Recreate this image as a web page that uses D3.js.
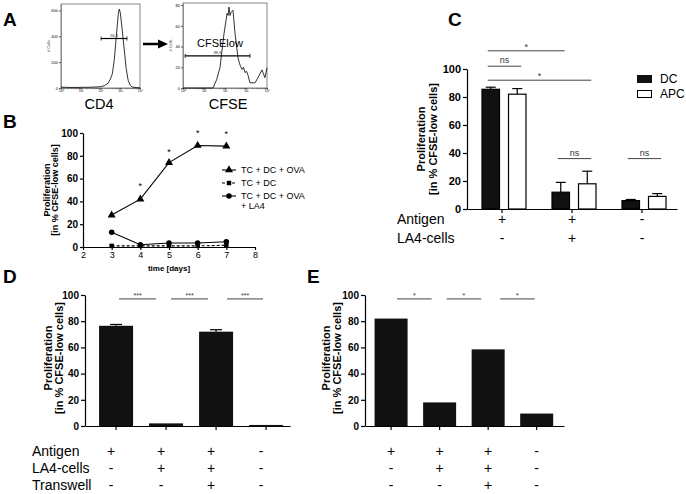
<!DOCTYPE html>
<meta charset="utf-8">
<style>
  body{margin:0;background:#fff;}
  svg{display:block;font-family:"Liberation Sans",Arial,sans-serif;}
</style>
<body>
<svg id="fig" width="686" height="494"></svg>
<script src="https://d3js.org/d3.v7.min.js"></script>
<script>
// ---------- data ----------
// A: flow histograms (x = log10 intensity, y = # cells)
const cd4Log    = [0, 0.5, 1, 1.5, 2, 2.2, 2.4, 2.5, 2.6, 2.7, 2.8, 2.9, 2.95, 3.0, 3.1, 3.2, 3.3, 3.4, 3.5, 3.6, 3.8, 4];
const cd4Count  = [6, 4, 5, 6, 10, 18, 40, 70, 110, 220, 400, 570, 610, 585, 450, 300, 150, 60, 22, 8, 3, 2];
const cfseLog   = [0, 0.5, 1, 1.43, 1.6, 1.76, 1.95, 2.1, 2.15, 2.19, 2.24, 2.29, 2.38, 2.48, 2.62, 2.72, 2.81, 2.88, 2.95, 3.03, 3.1, 3.19, 3.43, 3.57, 3.76, 3.9, 4];
const cfseCount = [0, 0, 0, 0, 8, 19.5, 52, 72, 70, 78, 70, 73, 75, 52, 29, 22, 18, 20, 15, 16, 12, 5, 5, 10, 17.5, 10, 19.5];

// B: time course
const days     = [3, 4, 5, 6, 7];
const ovaVals  = [28, 42, 74, 89, 88.5];
const dcVals   = [1, 1, 1, 1, 1.5];
const la4Vals  = [13, 2, 3.5, 3.5, 4.6];
const bStarDays = [4, 5, 6, 7];
const bStarVals = [55, 85, 102, 101];
const bLegend  = ["TC + DC + OVA", "TC + DC", "TC + DC + OVA", "+ LA4"];

// C: DC vs APC
const cAntigen = ["+", "+", "-"];
const cLA4     = ["-", "+", "-"];
const dcMean   = [85.5, 12, 6];
const dcErr    = [1.5, 7, 0.8];
const apcMean  = [82, 18, 9];
const apcErr   = [4, 9, 2];

// D / E: transwell
const dMean    = [76.5, 2, 72, 0.8];
const dErr     = [1, 0, 1.5, 0];
const eMean    = [82, 18, 58.5, 9.5];
const rowAntigen   = ["+", "+", "+", "-"];
const rowLA4       = ["-", "+", "+", "-"];
const rowTranswell = ["-", "-", "+", "-"];

const yTicks = [0, 20, 40, 60, 80, 100];

const svg = d3.select("#fig");

function styleAxis(g, size, bold, w) {
  g.attr("font-family", null).attr("font-size", size);
  g.selectAll("path,line").attr("stroke", "#000").attr("stroke-width", w || 1.2);
  g.selectAll("text").attr("fill", "#000").attr("font-weight", bold ? "bold" : "normal");
}

function letter(t, x, y) {
  svg.append("text").attr("x", x).attr("y", y).attr("font-size", 19)
    .attr("font-weight", "bold").text(t);
}

function yTitle(cx, cy, size, gap) {
  const t = svg.append("text").attr("transform", `translate(${cx},${cy}) rotate(-90)`)
    .attr("text-anchor", "middle").attr("font-size", size).attr("font-weight", "bold");
  t.append("tspan").attr("x", 0).attr("y", 0).text("Proliferation");
  t.append("tspan").attr("x", 0).attr("y", gap).text("[in % CFSE-low cells]");
}

// ---------- A ----------
const sup = ["\u2070", "\u00b9", "\u00b2", "\u00b3", "\u2074"];
function histPanel(x0, x1, y0, y1, yMax, ticks, logs, counts, gateVal, gateFrom, gateTo, gateLabel) {
  const x = d3.scaleLinear().domain([0, 4]).range([x0, x1]);
  const y = d3.scaleLinear().domain([0, yMax]).range([y1, y0]);
  svg.append("rect").attr("x", x0).attr("y", y0).attr("width", x1 - x0).attr("height", y1 - y0)
    .attr("fill", "none").attr("stroke", "#666").attr("stroke-width", 0.8);
  const minor = [];
  for (let d = 0; d < 4; d++) for (let k = 2; k < 10; k++) minor.push(d + Math.log10(k));
  const gx = svg.append("g").attr("transform", `translate(0,${y1})`)
    .call(d3.axisBottom(x).tickValues([0, 1, 2, 3, 4]).tickSize(1.5).tickSizeOuter(0).tickPadding(0.5)
      .tickFormat(d => "10" + sup[d]));
  styleAxis(gx, 3.5, false, 0.6);
  gx.select(".domain").attr("stroke", "#666");
  const gm = svg.append("g").attr("transform", `translate(0,${y1})`)
    .call(d3.axisBottom(x).tickValues(minor).tickSize(1.2).tickFormat(""));
  gm.select(".domain").remove();
  gm.selectAll("line").attr("stroke", "#444").attr("stroke-width", 0.5);
  const gy = svg.append("g").attr("transform", `translate(${x0},0)`)
    .call(d3.axisLeft(y).tickValues(ticks).tickSize(2).tickSizeOuter(0).tickPadding(1));
  styleAxis(gy, 4, false, 0.6);
  gy.select(".domain").attr("stroke", "#666");
  svg.append("text").attr("transform", `translate(${x0 - 11},${(y0 + y1) / 2}) rotate(-90)`)
    .attr("text-anchor", "middle").attr("font-size", 4).attr("fill", "#333").text("# Cells");
  svg.append("path").datum(d3.zip(logs, counts))
    .attr("d", d3.line().x(d => x(d[0])).y(d => y(d[1])))
    .attr("fill", "none").attr("stroke", "#000").attr("stroke-width", 0.8);
  // gate
  const gy0 = y(gateVal);
  svg.append("line").attr("x1", x(gateFrom)).attr("x2", x(gateTo)).attr("y1", gy0).attr("y2", gy0)
    .attr("stroke", "#000").attr("stroke-width", 1.2);
  [gateFrom, gateTo].forEach(v => svg.append("line").attr("x1", x(v)).attr("x2", x(v))
    .attr("y1", gy0 - 2).attr("y2", gy0 + 2).attr("stroke", "#000").attr("stroke-width", 0.8));
  svg.append("text").attr("x", (x(gateFrom) + x(gateTo)) / 2).attr("y", gy0 - 2)
    .attr("text-anchor", "middle").attr("font-size", 4).attr("fill", "#333").text(gateLabel);
  return x;
}

letter("A", 3, 26);
histPanel(61, 140, 4, 88, 650, [0, 200, 400, 600], cd4Log, cd4Count, 383, 2.03, 3.34, "94.4");
histPanel(183, 267, 3, 88, 82, [0, 20, 40, 60, 80], cfseLog, cfseCount, 31, 0.1, 3.19, "88.8");
svg.append("text").attr("x", 197).attr("y", 47).attr("font-size", 11).text("CFSElow");
svg.append("text").attr("x", 99).attr("y", 109).attr("text-anchor", "middle").attr("font-size", 14.5).text("CD4");
svg.append("text").attr("x", 228).attr("y", 109).attr("text-anchor", "middle").attr("font-size", 14.5).text("CFSE");
svg.append("line").attr("x1", 143).attr("x2", 160).attr("y1", 44).attr("y2", 44)
  .attr("stroke", "#000").attr("stroke-width", 2.5);
svg.append("path").attr("d", "M158,39.5L168,44L158,48.5Z").attr("fill", "#000");

// ---------- B ----------
letter("B", 3, 128);
const bx = d3.scaleLinear().domain([2, 8]).range([83, 255]);
const by = d3.scaleLinear().domain([0, 100]).range([247, 133]);
const bgy = svg.append("g").attr("transform", "translate(83,0)")
  .call(d3.axisLeft(by).tickValues(yTicks).tickSize(3).tickSizeOuter(0).tickPadding(2));
styleAxis(bgy, 10, true);
const bgx = svg.append("g").attr("transform", "translate(0,247)")
  .call(d3.axisBottom(bx).ticks(6).tickSize(3).tickSizeOuter(0).tickPadding(2));
styleAxis(bgx, 9, false);
svg.append("text").attr("x", 169).attr("y", 271).attr("text-anchor", "middle")
  .attr("font-size", 8).attr("font-weight", "bold").text("time [days]");
yTitle(50, 190, 9, 8);

const bSeries = [
  {vals: ovaVals, sym: d3.symbolTriangle, size: 28, dash: null},
  {vals: dcVals, sym: d3.symbolSquare, size: 20, dash: "3,2"},
  {vals: la4Vals, sym: d3.symbolCircle, size: 24, dash: null}
];
const bLine = d3.line().x(d => bx(d[0])).y(d => by(d[1]));
bSeries.forEach(s => {
  const pts = d3.zip(days, s.vals);
  svg.append("path").datum(pts).attr("d", bLine).attr("fill", "none")
    .attr("stroke", "#000").attr("stroke-width", 1.1).attr("stroke-dasharray", s.dash);
  svg.selectAll(null).data(pts).enter().append("path")
    .attr("transform", d => `translate(${bx(d[0])},${by(d[1])})`)
    .attr("d", d3.symbol().type(s.sym).size(s.size)).attr("fill", "#000");
});
svg.selectAll(null).data(d3.zip(bStarDays, bStarVals)).enter().append("text")
  .attr("x", d => bx(d[0])).attr("y", d => by(d[1]) + 5).attr("text-anchor", "middle")
  .attr("font-size", 9).text("*");
// legend
const legY = [170, 183, 196];
bSeries.forEach((s, i) => {
  svg.append("line").attr("x1", 222).attr("x2", 236).attr("y1", legY[i]).attr("y2", legY[i])
    .attr("stroke", "#000").attr("stroke-width", 1.1).attr("stroke-dasharray", s.dash);
  svg.append("path").attr("transform", `translate(229,${legY[i]})`)
    .attr("d", d3.symbol().type(s.sym).size(s.size)).attr("fill", "#000");
});
const legTextY = [173, 186, 199, 209];
bLegend.forEach((t, i) => svg.append("text").attr("x", 241).attr("y", legTextY[i])
  .attr("font-size", 9).text(t));

// ---------- C ----------
letter("C", 448, 26);
const cy = d3.scaleLinear().domain([0, 100]).range([209, 69]);
const cx = d3.scaleBand().domain(d3.range(3)).range([467, 677]);
const cin = d3.scaleBand().domain(["DC", "APC"]).range([15, 59]).paddingInner(0.34);
const cgy = svg.append("g").attr("transform", "translate(467,0)")
  .call(d3.axisLeft(cy).tickValues(yTicks).tickSize(4).tickSizeOuter(0).tickPadding(2));
styleAxis(cgy, 11, true);
const cgx = svg.append("g").attr("transform", "translate(0,209)")
  .call(d3.axisBottom(cx).tickSize(4).tickSizeOuter(0).tickFormat(""));
styleAxis(cgx, 11, false);
yTitle(425, 139, 11, 12);

function errBar(xc, yTop, yMean, w) {
  svg.append("line").attr("x1", xc).attr("x2", xc).attr("y1", yMean).attr("y2", yTop)
    .attr("stroke", "#000").attr("stroke-width", 1.2);
  svg.append("line").attr("x1", xc - w / 2).attr("x2", xc + w / 2).attr("y1", yTop).attr("y2", yTop)
    .attr("stroke", "#000").attr("stroke-width", 1.2);
}
[["DC", dcMean, dcErr, "#111"], ["APC", apcMean, apcErr, "#fff"]].forEach(([k, m, e, fill]) => {
  m.forEach((v, i) => {
    const x0 = cx(i) + cin(k), w = cin.bandwidth();
    errBar(x0 + w / 2, cy(v + e[i]), cy(v), 10);
    svg.append("rect").attr("x", x0).attr("y", cy(v)).attr("width", w).attr("height", cy(0) - cy(v))
      .attr("fill", fill).attr("stroke", "#000").attr("stroke-width", 1.2);
  });
});
const cCenter = (g, k) => cx(g) + cin(k) + cin.bandwidth() / 2;
const cSig = [
  {a: [0, "DC"], b: [1, "DC"], v: 113, t: "*"},
  {a: [0, "DC"], b: [0, "APC"], v: 102, t: "ns"},
  {a: [0, "DC"], b: [1, "APC"], v: 92, t: "*"},
  {a: [1, "DC"], b: [1, "APC"], v: 36, t: "ns"},
  {a: [2, "DC"], b: [2, "APC"], v: 36, t: "ns"}
];
cSig.forEach(s => {
  const xa = cCenter(...s.a) - 3, xb = cCenter(...s.b) + 4, yy = cy(s.v);
  svg.append("line").attr("x1", xa).attr("x2", xb).attr("y1", yy).attr("y2", yy)
    .attr("stroke", "#444").attr("stroke-width", 1);
  svg.append("text").attr("x", (xa + xb) / 2).attr("y", yy - (s.t === "*" ? 1 : 3))
    .attr("text-anchor", "middle").attr("font-size", 9).attr("fill", "#333").text(s.t);
});
// legend
svg.append("rect").attr("x", 637).attr("y", 75).attr("width", 15).attr("height", 8).attr("fill", "#111");
svg.append("rect").attr("x", 637.5).attr("y", 90.5).attr("width", 14).attr("height", 7)
  .attr("fill", "#fff").attr("stroke", "#000").attr("stroke-width", 1);
svg.append("text").attr("x", 660).attr("y", 83).attr("font-size", 12).text("DC");
svg.append("text").attr("x", 660).attr("y", 98).attr("font-size", 12).text("APC");
// rows
[["Antigen", cAntigen, 224], ["LA4-cells", cLA4, 243]].forEach(([lab, vals, yy]) => {
  svg.append("text").attr("x", 397).attr("y", yy).attr("font-size", 14).text(lab);
  vals.forEach((v, i) => svg.append("text").attr("x", cx(i) + cx.bandwidth() / 2).attr("y", yy)
    .attr("text-anchor", "middle").attr("font-size", 14).text(v));
});

// ---------- D / E ----------
function barPanel(x0, x1, align, means, errs, sigText, sigFrom, sigTo, signShift, labels) {
  const y = d3.scaleLinear().domain([0, 100]).range([426, 295]);
  const x = d3.scaleBand().domain(d3.range(4)).range([x0, x1])
    .paddingInner(0.32).paddingOuter(0.21).align(align);
  const gy = svg.append("g").attr("transform", `translate(${x0},0)`)
    .call(d3.axisLeft(y).tickValues(yTicks).tickSize(4).tickSizeOuter(0).tickPadding(2));
  styleAxis(gy, 10, true);
  const gx = svg.append("g").attr("transform", "translate(0,426)")
    .call(d3.axisBottom(x).tickSize(4).tickSizeOuter(0).tickFormat(""));
  styleAxis(gx, 10, false);
  means.forEach((v, i) => {
    if (errs && errs[i] > 0) errBar(x(i) + x.bandwidth() / 2, y(v + errs[i]), y(v), 12);
    svg.append("rect").attr("x", x(i)).attr("y", y(v)).attr("width", x.bandwidth())
      .attr("height", Math.max(1.5, y(0) - y(v))).attr("fill", "#111");
  });
  const c = i => x(i) + x.bandwidth() / 2;
  for (let i = 0; i < 3; i++) {
    const xa = c(i) + sigFrom[i], xb = c(i + 1) - sigTo[i], yy = y(97);
    svg.append("line").attr("x1", xa).attr("x2", xb).attr("y1", yy).attr("y2", yy)
      .attr("stroke", "#444").attr("stroke-width", 1);
    svg.append("text").attr("x", (xa + xb) / 2).attr("y", yy - 1).attr("text-anchor", "middle")
      .attr("font-size", 7).attr("fill", "#333").text(sigText);
  }
  [["Antigen", rowAntigen, 456], ["LA4-cells", rowLA4, 473], ["Transwell", rowTranswell, 490]]
    .forEach(([lab, vals, yy]) => {
      if (labels) svg.append("text").attr("x", 32).attr("y", yy).attr("font-size", 14).text(lab);
      vals.forEach((v, i) => svg.append("text").attr("x", c(i) + signShift).attr("y", yy)
        .attr("text-anchor", "middle").attr("font-size", 14).text(v));
    });
}

letter("D", 3, 283);
barPanel(85, 290, 0.67, dMean, dErr, "***", [3, 5, 11], [10, 8, 3], -5, true);
yTitle(52, 358, 11, 11);

letter("E", 307, 283);
barPanel(365, 564, 0.47, eMean, null, "*", [6, 7, 12], [8, 7, 2], 0, false);
yTitle(330, 358, 11, 11);
</script>
</body>
